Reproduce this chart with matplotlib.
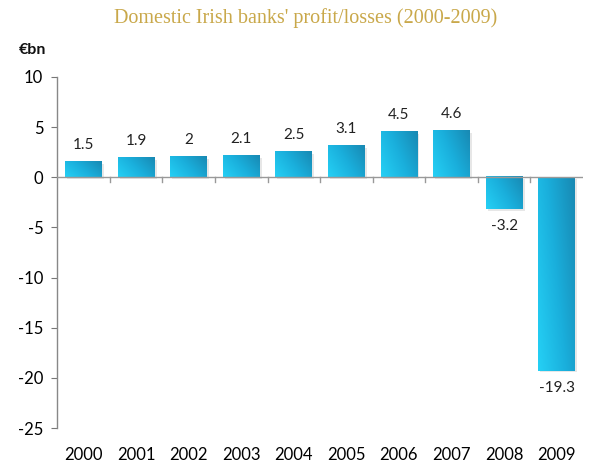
import matplotlib.pyplot as plt
import numpy as np
from matplotlib.colors import LinearSegmentedColormap

years = ["2000", "2001", "2002", "2003", "2004", "2005", "2006", "2007", "2008", "2009"]
profits = [1.5, 1.9, 2.0, 2.1, 2.5, 3.1, 4.5, 4.6, -3.2, -19.3]
labels = ["1.5", "1.9", "2", "2.1", "2.5", "3.1", "4.5", "4.6", "-3.2", "-19.3"]

plt.rcParams["font.family"] = ["Lato", "DejaVu Sans"]
plt.rcParams["axes.unicode_minus"] = False

fig = plt.figure(figsize=(5.9, 4.66), dpi=100)
ax = fig.add_axes([0.097, 0.0815, 0.891, 0.7535])

cmap = LinearSegmentedColormap.from_list("bar", ["#25d0f5", "#1aafdc", "#1889b3"])
bar_width = 0.7
gx, gy = np.meshgrid(np.linspace(0, 1, 40), np.linspace(0, 1, 80))
grad = 0.65 * gx + 0.35 * gy  # darker towards top-right

for i, (v, lab) in enumerate(zip(profits, labels)):
    x0 = i - bar_width / 2
    x1 = i + bar_width / 2
    lo, hi = min(0, v), max(0, v)
    # soft shadow
    ax.add_patch(plt.Rectangle((x0 + 0.04, lo - 0.15), bar_width, hi - lo,
                               color="#d8d8d8", alpha=0.6, zorder=1, lw=0))
    ax.imshow(grad, cmap=cmap, aspect="auto", origin="lower",
              extent=(x0, x1, lo, hi), zorder=2, interpolation="bilinear")
    if v >= 0:
        ax.text(i, v + 1.0, lab, ha="center", va="bottom", fontsize=11, color="#222222")
    else:
        ax.text(i, v - 1.0, lab, ha="center", va="top", fontsize=11, color="#222222")

ax.set_xlim(-0.5, len(years) - 0.5)
ax.set_ylim(-25, 10)
ax.set_yticks(np.arange(-25, 11, 5))
ax.set_xticks(range(len(years)))
ax.set_xticklabels(years)
ax.tick_params(axis="x", length=0, labelsize=12, pad=14)
ax.tick_params(axis="y", length=4, color="#777777", labelsize=12, pad=6)

for s in ["top", "right", "bottom"]:
    ax.spines[s].set_visible(False)
ax.spines["left"].set_color("#888888")
ax.spines["left"].set_linewidth(1.0)

ax.axhline(0, color="#999999", lw=1.0, zorder=3)
for b in np.arange(0.5, len(years) - 0.5, 1):
    ax.plot([b, b], [0, -0.5], color="#999999", lw=1.0, zorder=3, clip_on=False)

fig.text(0.518, 0.962, "Domestic Irish banks' profit/losses (2000-2009)",
         ha="center", va="center", fontsize=14.5, color="#c9a84a",
         family="Liberation Serif")
fig.text(0.032, 0.893, "€bn", ha="left", va="center", fontsize=11.5,
         fontweight="bold", color="#111111")

fig.savefig("out.png", dpi=100)
